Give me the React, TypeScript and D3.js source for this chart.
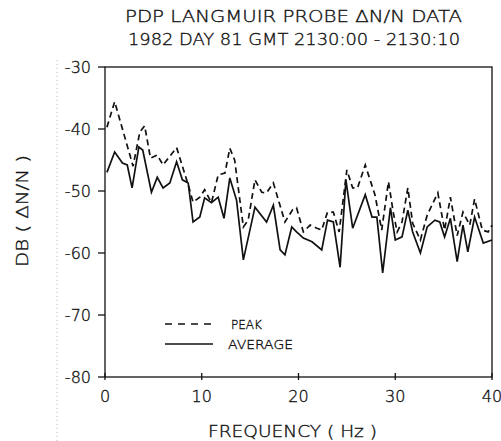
import React from "react";
import * as d3 from "d3";

const titleLines = ["PDP  LANGMUIR  PROBE  \u0394N/N  DATA", "1982  DAY 81  GMT  2130:00 - 2130:10"];
const xTicks = [0, 10, 20, 30, 40];
const yTicks = [-30, -40, -50, -60, -70, -80];

const peakFreq = [0.2, 1.0, 2.9, 3.6, 4.1, 4.7, 5.4, 6.0, 7.4, 8.6, 9.1, 9.8, 10.3, 11.0, 11.7, 12.4, 12.9, 13.4, 14.3, 14.8, 15.5, 16.2, 16.7, 17.4, 18.6, 19.4, 19.8, 20.5, 21.2, 21.9, 22.4, 23.0, 23.6, 24.2, 25.0, 25.6, 26.1, 26.9, 27.9, 28.6, 29.3, 29.8, 30.2, 30.7, 31.3, 31.8, 32.6, 33.3, 34.4, 35.1, 35.7, 36.4, 37.0, 37.7, 38.2, 39.0, 39.6, 40.0];
const peakDb = [-39.7, -35.6, -46.0, -40.5, -39.5, -44.7, -44.2, -45.8, -43.0, -49.0, -51.8, -51.0, -49.8, -51.9, -47.4, -47.1, -43.1, -45.0, -55.8, -54.7, -48.2, -50.2, -50.3, -48.7, -55.0, -53.0, -52.7, -56.6, -55.5, -56.0, -56.3, -53.4, -53.4, -56.6, -46.6, -49.5, -49.5, -45.8, -50.6, -56.3, -48.5, -53.5, -56.6, -55.0, -49.5, -55.2, -57.9, -53.9, -50.3, -56.3, -51.0, -57.2, -53.4, -55.5, -51.3, -56.3, -56.6, -55.5];

const avgFreq = [0.2, 1.0, 1.8, 2.3, 2.8, 3.5, 3.9, 4.8, 5.4, 6.0, 6.7, 7.4, 8.0, 8.6, 9.1, 9.8, 10.3, 11.0, 11.7, 12.3, 12.9, 13.6, 14.3, 15.5, 16.7, 17.4, 18.1, 18.6, 19.3, 19.8, 20.5, 21.4, 22.4, 23.0, 23.6, 24.3, 24.9, 25.6, 26.9, 27.6, 28.1, 28.7, 29.5, 30.0, 30.7, 31.3, 31.8, 32.6, 33.3, 34.1, 34.6, 35.1, 35.7, 36.4, 37.0, 37.5, 38.2, 39.1, 40.0];
const avgDb = [-47.0, -43.7, -45.5, -45.8, -49.5, -42.9, -43.4, -50.2, -47.8, -49.5, -48.7, -45.3, -48.2, -48.7, -55.0, -54.2, -51.1, -51.9, -51.0, -54.4, -47.9, -51.5, -61.1, -52.6, -55.0, -52.3, -59.5, -60.3, -55.8, -56.6, -57.6, -58.2, -59.5, -54.7, -55.0, -62.3, -48.2, -56.0, -50.6, -54.2, -54.2, -63.2, -52.7, -57.9, -57.4, -53.1, -56.6, -60.0, -55.8, -54.7, -55.0, -57.4, -54.4, -61.4, -55.5, -59.8, -54.2, -58.4, -57.9];

const W = 501;
const H = 441;
const left = 105;
const right = 492;
const top = 67;
const bottom = 377;
const FONT = "'DejaVu Sans', 'Liberation Sans', sans-serif";

export default function App() {
  const x = d3.scaleLinear().domain([0, 40]).range([left, right]);
  const y = d3.scaleLinear().domain([-80, -30]).range([bottom, top]);
  const line = d3
    .line<[number, number]>()
    .x((d) => x(d[0]))
    .y((d) => y(d[1]));
  const peakPts = peakFreq.map((f, i) => [f, peakDb[i]] as [number, number]);
  const avgPts = avgFreq.map((f, i) => [f, avgDb[i]] as [number, number]);
  const ts = { fill: "#111", stroke: "#111", strokeWidth: 0.35 };

  return (
    <svg
      width={W}
      height={H}
      style={{ position: "absolute", left: 0, top: 0, background: "#fff" }}
      fontFamily={FONT}
      fontWeight={200}
    >
      <rect x={0} y={0} width={W} height={H} fill="#fff" />
      {/* scan artifact dotted line */}
      <line x1={57} x2={57} y1={60} y2={H} stroke="#bbb" strokeWidth={1} strokeDasharray="1,3" />
      {/* title */}
      <text x={125} y={22} fontSize={16} textLength={337} lengthAdjust="spacingAndGlyphs" {...ts}>
        {titleLines[0]}
      </text>
      <text x={128} y={45} fontSize={16} textLength={332} lengthAdjust="spacingAndGlyphs" {...ts}>
        {titleLines[1]}
      </text>
      {/* frame */}
      <rect x={left} y={top} width={right - left} height={bottom - top} fill="none" stroke="#111" strokeWidth={1.3} />
      {/* y ticks */}
      {yTicks.map((t) => (
        <g key={t}>
          <line x1={left - 7} x2={left} y1={y(t)} y2={y(t)} stroke="#111" strokeWidth={1.3} />
          <text x={91} y={y(t) + 6} fontSize={16} textAnchor="end" {...ts}>
            {"-" + Math.abs(t)}
          </text>
        </g>
      ))}
      {/* x ticks */}
      {xTicks.map((t) => (
        <g key={t}>
          <line x1={x(t)} x2={x(t)} y1={bottom} y2={bottom - 4} stroke="#111" strokeWidth={1.3} />
          <line x1={x(t)} x2={x(t)} y1={bottom} y2={bottom + 3} stroke="#111" strokeWidth={1.3} />
          <text x={x(t)} y={402} fontSize={16} textAnchor="middle" {...ts}>
            {t}
          </text>
        </g>
      ))}
      {/* axis labels */}
      <text x={208} y={437} fontSize={15} textLength={169} lengthAdjust="spacingAndGlyphs" {...ts}>
        FREQUENCY ( Hz )
      </text>
      <text
        transform="translate(28,267) rotate(-90)"
        x={0}
        y={0}
        fontSize={15}
        textLength={112}
        lengthAdjust="spacingAndGlyphs"
        {...ts}
      >
        DB ( ΔN/N )
      </text>
      {/* series */}
      <path d={line(peakPts) || ""} fill="none" stroke="#111" strokeWidth={1.7} strokeDasharray="6,4" />
      <path d={line(avgPts) || ""} fill="none" stroke="#111" strokeWidth={1.7} />
      {/* legend */}
      <line x1={165} x2={213} y1={324} y2={324} stroke="#111" strokeWidth={1.5} strokeDasharray="7,6" />
      <text x={231} y={329} fontSize={13} textLength={31} lengthAdjust="spacingAndGlyphs" {...ts}>
        PEAK
      </text>
      <line x1={165} x2={213} y1={344} y2={344} stroke="#111" strokeWidth={1.5} />
      <text x={228} y={349} fontSize={13} textLength={65} lengthAdjust="spacingAndGlyphs" {...ts}>
        AVERAGE
      </text>
    </svg>
  );
}
